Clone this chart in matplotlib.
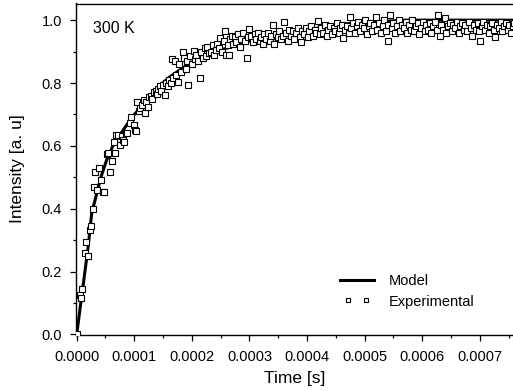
import matplotlib
matplotlib.use("Agg")
import matplotlib.pyplot as plt
from matplotlib.legend_handler import HandlerLine2D
from matplotlib.ticker import MultipleLocator, FormatStrFormatter

# Curva de recuperación a 300 K: modelo + puntos experimentales

plt.rcParams['font.family'] = ['Liberation Sans', 'DejaVu Sans']

# Modelo (tiempo en microsegundos, intensidad normalizada)
model_t_us = [0, 5, 10, 15, 20, 26, 35, 42, 52, 64, 87, 100, 116, 140, 162,
              190, 214, 250, 289, 320, 359, 396, 440, 475, 520, 570, 650, 760]
model_v = [0.0, 0.07, 0.14, 0.21, 0.28, 0.385, 0.45, 0.50, 0.555, 0.605, 0.667,
           0.70, 0.73, 0.785, 0.82, 0.855, 0.875, 0.905, 0.927, 0.945, 0.959,
           0.969, 0.98, 0.99, 0.995, 1.0, 1.0, 1.0]

# Datos experimentales
exp_t_us = [0, 5, 7, 10, 14, 17, 20, 23, 25, 28,
            30, 32, 35, 39, 42, 46, 48, 53, 55, 57,
            61, 64, 67, 69, 72, 75, 78, 80, 83, 85,
            87, 92, 95, 99, 101, 103, 105, 108, 110, 113,
            116, 119, 121, 124, 126, 129, 131, 134, 137, 139,
            142, 144, 147, 150, 153, 155, 158, 160, 163, 165,
            168, 170, 173, 176, 178, 181, 184, 186, 189, 192,
            194, 197, 200, 203, 205, 208, 211, 214, 216, 219,
            222, 225, 227, 230, 233, 236, 238, 241, 244, 247,
            249, 252, 255, 257, 260, 262, 264, 266, 269, 272,
            275, 277, 280, 283, 286, 289, 292, 295, 297, 300,
            303, 306, 309, 312, 315, 318, 320, 323, 326, 329,
            332, 335, 338, 340, 343, 346, 349, 352, 355, 358,
            360, 363, 366, 369, 372, 375, 378, 381, 384, 387,
            390, 392, 395, 398, 401, 404, 407, 410, 413, 416,
            419, 422, 425, 428, 431, 434, 437, 440, 443, 446,
            449, 452, 455, 458, 461, 463, 466, 469, 472, 474,
            477, 480, 483, 486, 489, 492, 495, 498, 501, 504,
            507, 510, 513, 516, 519, 522, 525, 528, 531, 534,
            537, 540, 541, 544, 547, 550, 553, 556, 559, 562,
            565, 568, 571, 574, 577, 580, 583, 586, 589, 592,
            595, 598, 601, 604, 607, 610, 613, 616, 619, 622,
            625, 628, 630, 633, 636, 639, 642, 645, 648, 651,
            654, 657, 660, 663, 666, 669, 672, 675, 678, 681,
            684, 687, 690, 693, 696, 699, 700, 703, 706, 709,
            712, 715, 718, 721, 724, 727, 730, 733, 736, 739,
            742, 745, 748, 751, 754, 757, 760]
exp_v = [0.0, 0.126, 0.115, 0.143, 0.26, 0.294, 0.25, 0.332, 0.345, 0.398,
         0.47, 0.516, 0.46, 0.529, 0.491, 0.454, 0.453, 0.574, 0.576, 0.516,
         0.552, 0.613, 0.576, 0.635, 0.634, 0.603, 0.632, 0.619, 0.613, 0.642,
         0.64, 0.672, 0.693, 0.667, 0.65, 0.648, 0.738, 0.71, 0.72, 0.73,
         0.745, 0.704, 0.741, 0.725, 0.755, 0.76, 0.748, 0.77, 0.775, 0.765,
         0.78, 0.79, 0.775, 0.795, 0.762, 0.80, 0.79, 0.81, 0.80, 0.877,
         0.815, 0.87, 0.825, 0.804, 0.86, 0.835, 0.898, 0.88, 0.845, 0.87,
         0.794, 0.885, 0.86, 0.903, 0.875, 0.89, 0.87, 0.815, 0.90, 0.88,
         0.91, 0.885, 0.915, 0.895, 0.90, 0.92, 0.89, 0.905, 0.925, 0.91,
         0.943, 0.90, 0.935, 0.967, 0.889, 0.92, 0.889, 0.94, 0.95, 0.925,
         0.945, 0.93, 0.955, 0.915, 0.94, 0.96, 0.935, 0.881, 0.945, 0.972,
         0.95, 0.93, 0.955, 0.94, 0.96, 0.935, 0.945, 0.925, 0.955, 0.94,
         0.96, 0.935, 0.95, 0.983, 0.924, 0.955, 0.945, 0.965, 0.94, 0.95,
         0.995, 0.96, 0.935, 0.97, 0.95, 0.965, 0.94, 0.96, 0.975, 0.945,
         0.932, 0.965, 0.955, 0.975, 0.945, 0.965, 0.98, 0.948, 0.97, 0.96,
         0.998, 0.955, 0.975, 0.96, 0.985, 0.95, 0.97, 0.98, 0.955, 0.975,
         0.965, 0.99, 0.96, 0.975, 0.985, 0.943, 0.97, 0.98, 0.96, 1.01,
         0.975, 0.99, 0.96, 0.98, 0.995, 0.965, 0.985, 0.975, 1.0, 0.955,
         0.98, 0.99, 0.965, 0.985, 1.01, 0.97, 0.99, 0.96, 0.98, 1.0,
         0.965, 0.985, 0.934, 1.015, 0.975, 0.99, 0.96, 0.98, 1.0, 0.965,
         0.985, 0.975, 0.995, 0.96, 0.985, 0.97, 1.0, 0.965, 0.98, 0.99,
         0.955, 0.975, 0.995, 0.965, 0.985, 0.97, 0.99, 0.96, 0.98, 0.995,
         0.97, 1.017, 0.948, 0.985, 0.97, 1.006, 0.96, 0.98, 0.99, 0.965,
         0.985, 0.975, 0.995, 0.96, 0.98, 0.99, 0.97, 0.985, 0.965, 0.995,
         0.975, 0.951, 0.985, 0.97, 0.99, 0.965, 0.934, 0.98, 0.995, 0.97,
         0.985, 0.96, 0.98, 0.99, 0.97, 0.945, 0.985, 0.975, 0.995, 0.965,
         0.98, 0.99, 0.97, 0.985, 0.958, 0.98, 0.99]

x_ticks = [0.0, 0.0001, 0.0002, 0.0003, 0.0004, 0.0005, 0.0006, 0.0007]
y_ticks = [0.0, 0.2, 0.4, 0.6, 0.8, 1.0]

model_t = [t * 1e-6 for t in model_t_us]
exp_t = [t * 1e-6 for t in exp_t_us]

fig = plt.figure(figsize=(5.13, 3.91), dpi=100)
ax = fig.add_axes([76 / 513, (391 - 334.7) / 391, (513 - 76) / 513, (334.7 - 3.5) / 391])

ax.plot(model_t, model_v, color='black', lw=2.2, label='Model', zorder=2)
exp_line, = ax.plot(exp_t, exp_v, ls='none', marker='s', ms=4.6, mfc='white',
                    mec='black', mew=0.8, label='Experimental', zorder=3)

ax.set_xlim(-1.2e-6, 7.575e-4)
ax.set_ylim(-0.001, 1.053)
ax.set_xticks(x_ticks)
ax.set_yticks(y_ticks)
ax.xaxis.set_major_formatter(FormatStrFormatter('%.4f'))
ax.yaxis.set_major_formatter(FormatStrFormatter('%.1f'))
ax.xaxis.set_minor_locator(MultipleLocator(0.00005))
ax.yaxis.set_minor_locator(MultipleLocator(0.1))
ax.tick_params(which='major', direction='out', length=4.5, width=0.9, labelsize=10.5)
ax.tick_params(axis='x', which='major', pad=6.5)
ax.tick_params(axis='y', which='major', pad=5.5)
ax.tick_params(which='minor', direction='out', length=2.5, width=0.9)
ax.spines['right'].set_visible(False)
for s in ('left', 'bottom', 'top'):
    ax.spines[s].set_linewidth(1.0)

ax.set_xlabel('Time [s]', fontsize=12.5, labelpad=5)
ax.set_ylabel('Intensity [a. u]', fontsize=12.5, labelpad=12)

ax.text(0.0000283, 0.96, '300 K', fontsize=11.5, va='baseline')

ax.legend(loc='upper left', bbox_to_anchor=((336 - 76) / 437, (334.7 - 274) / 331.2),
          frameon=False, numpoints=2, markerscale=0.55, handlelength=2.9,
          fontsize=10.5, labelspacing=0.45, handletextpad=0.7, borderpad=0.0,
          borderaxespad=0.0, handler_map={exp_line: HandlerLine2D(marker_pad=0.85)})

fig.savefig('out.png', dpi=100)
